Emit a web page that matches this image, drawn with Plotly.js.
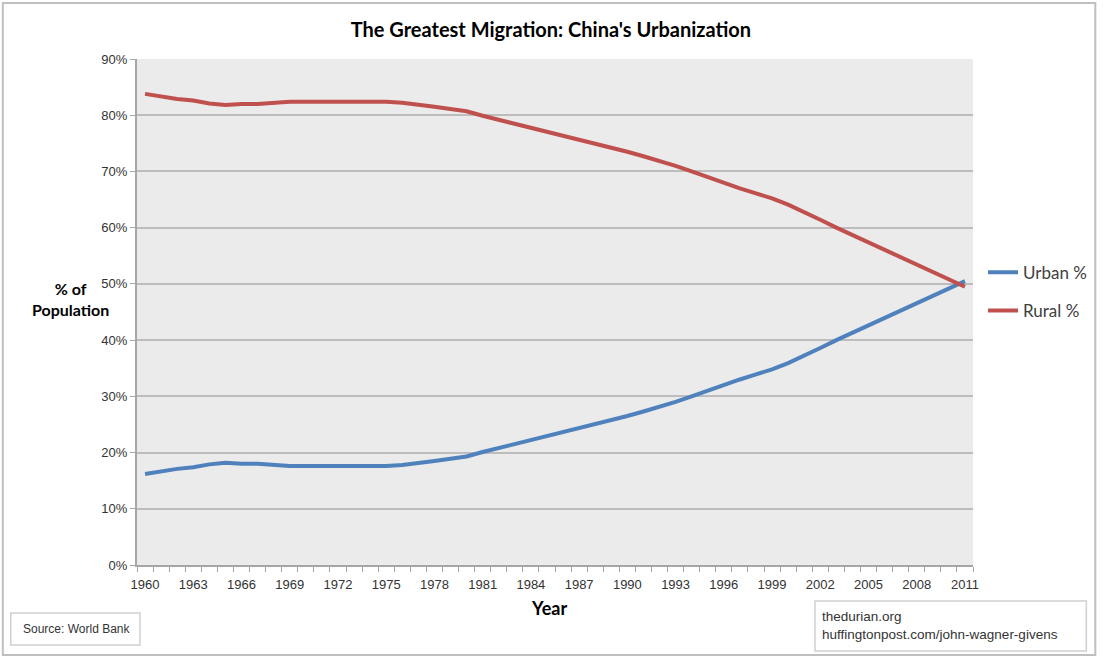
<!DOCTYPE html>
<html>
<head>
<meta charset="utf-8">
<script src="https://cdn.plot.ly/plotly-3.0.1.min.js"></script>
<style>html,body{margin:0;padding:0;background:#fff;}#chart{width:1104px;height:658px;}</style>
</head>
<body>
<div id="chart"></div>
<script>
const years = [1960,1961,1962,1963,1964,1965,1966,1967,1968,1969,1970,1971,1972,1973,1974,1975,1976,1977,1978,1979,1980,1981,1982,1983,1984,1985,1986,1987,1988,1989,1990,1991,1992,1993,1994,1995,1996,1997,1998,1999,2000,2001,2002,2003,2004,2005,2006,2007,2008,2009,2010,2011];
const urban = [16.2,16.7,17.1,17.4,17.9,18.2,18.0,18.0,17.8,17.6,17.6,17.6,17.6,17.6,17.6,17.6,17.8,18.1,18.5,18.9,19.3,20.1,20.8,21.5,22.2,22.9,23.6,24.4,25.1,25.8,26.5,27.3,28.1,29.0,30.0,31.0,32.1,33.0,33.9,34.8,35.9,37.2,38.6,40.0,41.3,42.6,43.9,45.3,46.6,47.9,49.2,50.5];
const rural = [83.8,83.3,82.9,82.6,82.1,81.8,82.0,82.0,82.2,82.4,82.4,82.4,82.4,82.4,82.4,82.4,82.2,81.9,81.5,81.1,80.7,79.9,79.2,78.5,77.8,77.1,76.4,75.6,74.9,74.2,73.5,72.7,71.9,71.0,70.0,69.0,67.9,67.0,66.1,65.2,64.1,62.8,61.4,60.0,58.7,57.4,56.1,54.7,53.4,52.1,50.8,49.5];
const xTickYears = [1960,1963,1966,1969,1972,1975,1978,1981,1984,1987,1990,1993,1996,1999,2002,2005,2008,2011];
const yTicks = [0,10,20,30,40,50,60,70,80,90];
const yTickLabels = ['0%','10%','20%','30%','40%','50%','60%','70%','80%','90%'];

const traces = [
  {x: years, y: urban, name: 'Urban %', type: 'scatter', mode: 'lines', legendgroup: 'u',
   line: {color: '#4f81bd', width: 4}},
  {x: years, y: rural, name: 'Rural %', type: 'scatter', mode: 'lines', legendgroup: 'r',
   line: {color: '#c0504d', width: 4}}
];

const layout = {
  width: 1104, height: 658,
  margin: {l: 137, r: 126, t: 59, b: 93},
  paper_bgcolor: '#fff', plot_bgcolor: '#ebebeb',
  font: {family: 'Liberation Sans Narrow, sans-serif', size: 13, color: '#333'},
  title: {text: "<b>The Greatest Migration: China's Urbanization</b>", x: 0.499, xanchor: 'center', y: 0.954, yanchor: 'middle',
          font: {family: 'Lato, sans-serif', size: 20, color: '#000'}},
  xaxis: {range: [1959.5, 2011.5], tickvals: xTickYears, ticktext: xTickYears.map(String), ticks: '',
          showgrid: false, zeroline: false, showline: true, linecolor: '#a6a6a6', linewidth: 2,
          tickfont: {size: 13, color: '#333'}, ticklabelstandoff: 6,
          minor: {tick0: 1959.5, dtick: 1, ticks: 'outside', ticklen: 5, tickcolor: '#a6a6a6', tickwidth: 1, showgrid: false}},
  yaxis: {range: [0, 90], tickvals: yTicks, ticktext: yTickLabels, ticks: 'outside', ticklen: 5, tickcolor: '#a6a6a6',
          showgrid: true, gridcolor: '#bdbdbd', gridwidth: 2, zeroline: false, showline: true, linecolor: '#a6a6a6', linewidth: 2,
          tickfont: {size: 13, color: '#333'}},
  showlegend: true,
  legend: {x: 1.012, xanchor: 'left', y: 0.613, yanchor: 'top', font: {family: 'Lato, sans-serif', size: 17, color: '#404040'},
           tracegroupgap: 13, bgcolor: 'rgba(0,0,0,0)', itemwidth: 30},
  shapes: [
    {type: 'rect', xref: 'paper', yref: 'paper', x0: -0.1605, x1: 1.1463, y0: -0.1779, y1: 1.1107,
     line: {color: '#bfbfbf', width: 2}, fillcolor: 'rgba(0,0,0,0)', layer: 'below'},
    {type: 'rect', xref: 'paper', yref: 'paper', x0: -0.151, x1: 0.0036, y0: -0.158, y1: -0.0949,
     line: {color: '#d0d0d0', width: 1.5}, fillcolor: 'rgba(0,0,0,0)'},
    {type: 'rect', xref: 'paper', yref: 'paper', x0: 0.811, x1: 1.1356, y0: -0.170, y1: -0.0711,
     line: {color: '#d0d0d0', width: 1.5}, fillcolor: 'rgba(0,0,0,0)'}
  ],
  annotations: [
    {text: '<b>% of<br>Population</b>', xref: 'paper', yref: 'paper', x: -0.0797, y: 0.526, xanchor: 'center', yanchor: 'middle',
     showarrow: false, align: 'center', font: {family: 'Lato, sans-serif', size: 16, color: '#000'}},
    {text: '<b>Year</b>', xref: 'paper', yref: 'paper', x: 0.4923, y: -0.085, xanchor: 'center', yanchor: 'middle',
     showarrow: false, font: {family: 'Lato, sans-serif', size: 18, color: '#000'}},
    {text: 'Source: World Bank', xref: 'paper', yref: 'paper', x: -0.139, y: -0.1265, xanchor: 'left', yanchor: 'middle',
     showarrow: false, font: {family: 'Liberation Sans Narrow, sans-serif', size: 12, color: '#333'}},
    {text: 'thedurian.org<br>huffingtonpost.com/john-wagner-givens', xref: 'paper', yref: 'paper', x: 0.817, y: -0.1205,
     xanchor: 'left', yanchor: 'middle', align: 'left', showarrow: false,
     font: {family: 'Liberation Sans Narrow, sans-serif', size: 13.5, color: '#333'}}
  ]
};

Plotly.newPlot('chart', traces, layout, {displayModeBar: false, staticPlot: true});
</script>
</body>
</html>
